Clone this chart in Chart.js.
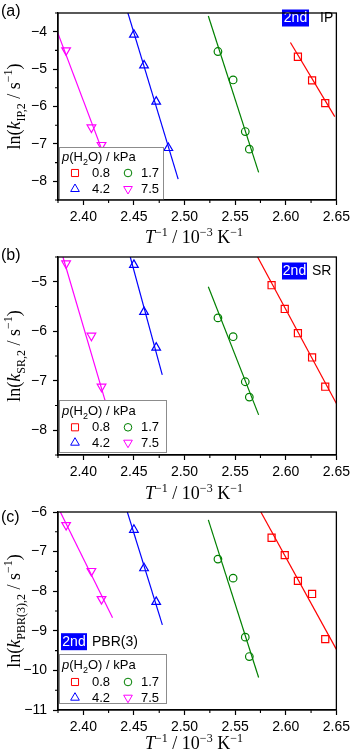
<!DOCTYPE html>
<html>
<head>
<meta charset="utf-8">
<script src="https://cdn.jsdelivr.net/npm/chart.js@4.4.0/dist/chart.umd.min.js"></script>
<style>
    html, body { margin: 0; padding: 0; background: #fff; }
    #wrap { position: relative; width: 355px; height: 756px; overflow: hidden; }
    canvas { position: absolute; left: 0; }
</style>
</head>
<body>
<div id="wrap">
    <canvas id="cA" width="355" height="250" style="top:0px"></canvas>
    <canvas id="cB" width="355" height="265" style="top:240px"></canvas>
    <canvas id="cC" width="355" height="261" style="top:495px"></canvas>
</div>
<script>
// Valores - T^-1 (10^-3 K^-1) para cada p(H2O)
const seriesLabels = ['0.8', '1.7', '4.2', '7.5'];
const invT_08 = [2.586, 2.599, 2.612, 2.626, 2.639];
const invT_17 = [2.533, 2.548, 2.560, 2.564];
const invT_42 = [2.450, 2.460, 2.472, 2.484];
const invT_75 = [2.383, 2.408, 2.418];

const xTicks = [2.40, 2.45, 2.50, 2.55, 2.60, 2.65];

// (a) ln(k_IP,2)
const lnkIP_08 = [null, null, -4.67, -5.30, -5.91];
const lnkIP_17 = [-4.53, -5.29, -6.67, -7.14];
const lnkIP_42 = [-4.08, -4.90, -5.87, -7.11];
const lnkIP_75 = [-4.50, -6.56, -7.03];
// retas de ajuste (extremos)
const fitIP_x08 = [2.6046, 2.6484], fitIP_y08 = [-4.29, -6.27];
const fitIP_x17 = [2.5235, 2.5732], fitIP_y17 = [-3.58, -7.76];
const fitIP_x42 = [2.4435, 2.4937], fitIP_y42 = [-3.45, -7.94];
const fitIP_x75 = [2.3746, 2.4184], fitIP_y75 = [-4.02, -7.16];
const yTicksIP = [-8, -7, -6, -5, -4];

// (b) ln(k_SR,2)
const lnkSR_08 = [-5.07, -5.55, -6.04, -6.53, -7.12];
const lnkSR_17 = [-5.73, -6.11, -7.02, -7.33];
const lnkSR_42 = [-4.66, -5.61, -6.33, null];
const lnkSR_75 = [-4.63, -6.09, -7.12];
const fitSR_x08 = [2.5722, 2.6500], fitSR_y08 = [-4.50, -7.46];
const fitSR_x17 = [2.5235, 2.5732], fitSR_y17 = [-5.10, -7.69];
const fitSR_x42 = [2.4464, 2.4780], fitSR_y42 = [-4.50, -6.88];
const fitSR_x75 = [2.3799, 2.4214], fitSR_y75 = [-4.50, -7.39];
const yTicksSR = [-8, -7, -6, -5];

// (c) ln(k_PBR(3),2)
const lnkPBR_08 = [-6.65, -7.09, -7.74, -8.07, -9.21];
const lnkPBR_17 = [-7.19, -7.67, -9.16, -9.65];
const lnkPBR_42 = [-6.45, -7.42, -8.27, null];
const lnkPBR_75 = [-6.33, -7.49, -8.20];
const fitPBR_x08 = [2.5754, 2.6500], fitPBR_y08 = [-6.00, -9.47];
const fitPBR_x17 = [2.5235, 2.5732], fitPBR_y17 = [-6.20, -10.18];
const fitPBR_x42 = [2.4435, 2.4781], fitPBR_y42 = [-6.00, -8.85];
const fitPBR_x75 = [2.3773, 2.4289], fitPBR_y75 = [-6.00, -8.67];
const yTicksPBR = [-11, -10, -9, -8, -7, -6];

// estilos das séries
const cores = ['#ff0000', '#008000', '#0000ff', '#ff00ff'];
const simbolos = ['rect', 'circle', 'triangle', 'triangle'];
const rotacoes = [0, 0, 0, 180];
const raios = [5, 3.8, 5, 5];

const SANS = '"Liberation Sans", Arial, sans-serif';
const SERIF = '"Liberation Serif", "Times New Roman", serif';

// desenha texto com itálico, subscrito e sobrescrito
function textoRico(ctx, partes, x, y, tam, familia, alinhar) {
    const fonte = (k) => (k === 'i' ? 'italic ' : '') + ((k === 'sub' || k === 'sup') ? Math.round(tam * 0.66) : tam) + 'px ' + familia;
    let total = 0;
    partes.forEach(p => { ctx.font = fonte(p[1]); total += ctx.measureText(p[0]).width; });
    let cx = alinhar === 'center' ? x - total / 2 : x;
    ctx.textAlign = 'left';
    ctx.textBaseline = 'alphabetic';
    partes.forEach(p => {
        ctx.font = fonte(p[1]);
        const dy = p[1] === 'sub' ? tam * 0.28 : (p[1] === 'sup' ? -tam * 0.4 : 0);
        ctx.fillText(p[0], cx, y + dy);
        cx += ctx.measureText(p[0]).width;
    });
}

function montarDatasets(xs, ys, fx, fy) {
    const ds = [];
    for (let i = 0; i < 4; i++) {
        ds.push({
            data: fx[i].map((x, j) => ({ x: x, y: fy[i][j] })),
            showLine: true, borderColor: cores[i], borderWidth: 1.2,
            pointRadius: 0, order: 2
        });
        ds.push({
            label: seriesLabels[i],
            data: xs[i].map((x, j) => ({ x: x, y: ys[i][j] })).filter(p => p.y !== null && p.y !== undefined),
            showLine: false,
            pointStyle: simbolos[i], pointRotation: rotacoes[i], pointRadius: raios[i],
            pointBorderColor: cores[i], pointBackgroundColor: 'rgba(0,0,0,0)', pointBorderWidth: 1.2,
            order: 1
        });
    }
    return ds;
}

const pluginDecor = {
    id: 'decor',
    afterDatasetsDraw(chart) {
        const P = chart.options.plugins.decor;
        const ctx = chart.ctx;
        const L = P.legenda;
        ctx.save();
        // caixa da legenda
        ctx.fillStyle = '#fff';
        ctx.fillRect(L.x, L.y, L.w, L.h);
        ctx.strokeStyle = '#8c8c8c';
        ctx.lineWidth = 1;
        ctx.strokeRect(L.x + 0.5, L.y + 0.5, L.w, L.h);
        ctx.fillStyle = '#000';
        textoRico(ctx, [['p', 'i'], ['(H', 'n'], ['2', 'sub'], ['O) / kPa', 'n']], L.x + 3, L.titulo + 5, 13, SANS, 'left');
        for (let i = 0; i < 4; i++) {
            const col = i % 2, lin = Math.floor(i / 2);
            const sx = L.x + (col ? 69 : 16);
            const tx = L.x + (col ? 82 : 33);
            const yy = lin ? L.lin2 : L.lin1;
            ctx.strokeStyle = cores[i];
            ctx.fillStyle = '#fff';
            Chart.helpers.drawPoint(ctx, { pointStyle: simbolos[i], rotation: rotacoes[i], radius: raios[i], borderWidth: 1.2 }, sx, yy);
            ctx.fillStyle = '#000';
            ctx.font = '13px ' + SANS;
            ctx.textAlign = 'left';
            ctx.textBaseline = 'middle';
            ctx.fillText(seriesLabels[i], tx, yy + 0.5);
        }
        // etiqueta "2nd"
        const T = P.etiqueta;
        ctx.fillStyle = '#0000ff';
        ctx.fillRect(T.x, T.y - 8.5, T.w, 17);
        ctx.fillStyle = '#fff';
        ctx.font = '14px ' + SANS;
        ctx.textAlign = 'center';
        ctx.textBaseline = 'middle';
        ctx.fillText('2nd', T.x + T.w / 2, T.y + 0.5);
        ctx.fillStyle = '#000';
        ctx.textAlign = 'left';
        ctx.fillText(T.texto, T.x + T.dx, T.y + 0.5);
        ctx.restore();
    },
    afterDraw(chart) {
        const P = chart.options.plugins.decor;
        const ctx = chart.ctx;
        const a = chart.chartArea;
        const sx = chart.scales.x, sy = chart.scales.y;
        ctx.save();
        // ticks menores
        ctx.strokeStyle = '#000';
        ctx.lineWidth = 1.1;
        ctx.beginPath();
        for (let v = 2.375; v < 2.65; v += 0.05) {
            const px = sx.getPixelForValue(v);
            ctx.moveTo(px, a.bottom);
            ctx.lineTo(px, a.bottom + 3);
        }
        for (let v = sy.min; v <= sy.max; v += 0.5) {
            if (Math.abs(v - Math.round(v)) < 0.01) continue;
            const py = sy.getPixelForValue(v);
            ctx.moveTo(a.left, py);
            ctx.lineTo(a.left - 3, py);
        }
        ctx.stroke();
        // moldura
        ctx.lineWidth = 1.3;
        ctx.strokeRect(a.left, a.top, a.right - a.left, a.bottom - a.top);
        // rótulo do painel
        ctx.fillStyle = '#000';
        ctx.font = '16px ' + SANS;
        ctx.textAlign = 'left';
        ctx.textBaseline = 'middle';
        ctx.fillText(P.painel, 1, P.painelY);
        // título do eixo x
        textoRico(ctx, [['T', 'i'], ['\u22121', 'sup'], [' / 10', 'n'], ['\u22123', 'sup'], [' K', 'n'], ['\u22121', 'sup']],
            194, a.bottom + P.tituloX, 18, SERIF, 'center');
        // título do eixo y
        ctx.translate(19.5, (a.top + a.bottom) / 2);
        ctx.rotate(-Math.PI / 2);
        textoRico(ctx, [['ln(', 'n'], ['k', 'i'], [P.sub, 'sub'], [' / s', 'n'], ['\u22121', 'sup'], [')', 'n']],
            0, 0, 18, SERIF, 'center');
        ctx.restore();
    }
};

function criarPainel(id, P) {
    const canvas = document.getElementById(id);
    const H = canvas.height;
    return new Chart(canvas, {
        type: 'scatter',
        data: { datasets: montarDatasets(P.xs, P.ys, P.fx, P.fy) },
        options: {
            responsive: false,
            animation: false,
            events: [],
            layout: { padding: { top: P.topo, right: 15, left: 0, bottom: 0 } },
            plugins: {
                legend: { display: false },
                tooltip: { enabled: false },
                decor: P
            },
            scales: {
                x: {
                    type: 'linear', min: 2.375, max: 2.65,
                    afterBuildTicks: (s) => { s.ticks = xTicks.map(v => ({ value: v })); },
                    afterFit: (s) => { s.height = H - P.base; },
                    ticks: {
                        callback: (v) => Number(v).toFixed(2),
                        font: { family: SANS, size: 14, lineHeight: 1 }, color: '#000',
                        padding: 5, maxRotation: 0, autoSkip: false
                    },
                    grid: { drawOnChartArea: false, tickLength: 5, tickColor: '#000', tickWidth: 1.2 },
                    border: { color: '#000', width: 1.3 }
                },
                y: {
                    type: 'linear', min: P.yMin, max: P.yMax,
                    afterBuildTicks: (s) => { s.ticks = P.yTicks.map(v => ({ value: v })); },
                    afterFit: (s) => { s.width = 58; },
                    ticks: {
                        callback: (v) => String(v).replace('-', '\u2212'),
                        font: { family: SANS, size: 14, lineHeight: 1 }, color: '#000',
                        padding: 6, autoSkip: false
                    },
                    grid: { drawOnChartArea: false, tickLength: 5, tickColor: '#000', tickWidth: 1.2 },
                    border: { color: '#000', width: 1.3 }
                }
            }
        },
        plugins: [pluginDecor]
    });
}

const xsTodos = [invT_08, invT_17, invT_42, invT_75];

criarPainel('cA', {
    xs: xsTodos, ys: [lnkIP_08, lnkIP_17, lnkIP_42, lnkIP_75],
    fx: [fitIP_x08, fitIP_x17, fitIP_x42, fitIP_x75], fy: [fitIP_y08, fitIP_y17, fitIP_y42, fitIP_y75],
    yMin: -8.5, yMax: -3.5, yTicks: yTicksIP,
    topo: 2, base: 200, painel: '(a)', painelY: 12, tituloX: 43, sub: 'IP,2',
    legenda: { x: 59, y: 147, w: 104, h: 52, titulo: 156, lin1: 173, lin2: 189 },
    etiqueta: { x: 282, y: 18, w: 27, dx: 38, texto: 'IP' }
});

criarPainel('cB', {
    xs: xsTodos, ys: [lnkSR_08, lnkSR_17, lnkSR_42, lnkSR_75],
    fx: [fitSR_x08, fitSR_x17, fitSR_x42, fitSR_x75], fy: [fitSR_y08, fitSR_y17, fitSR_y42, fitSR_y75],
    yMin: -8.5, yMax: -4.5, yTicks: yTicksSR,
    topo: 17, base: 215, painel: '(b)', painelY: 15.5, tituloX: 44, sub: 'SR,2',
    legenda: { x: 59, y: 160, w: 107, h: 52, titulo: 170, lin1: 187.3, lin2: 202.7 },
    etiqueta: { x: 282, y: 31, w: 25, dx: 30, texto: 'SR' }
});

criarPainel('cC', {
    xs: xsTodos, ys: [lnkPBR_08, lnkPBR_17, lnkPBR_42, lnkPBR_75],
    fx: [fitPBR_x08, fitPBR_x17, fitPBR_x42, fitPBR_x75], fy: [fitPBR_y08, fitPBR_y17, fitPBR_y42, fitPBR_y75],
    yMin: -11, yMax: -6, yTicks: yTicksPBR,
    topo: 17, base: 215, painel: '(c)', painelY: 23, tituloX: 39, sub: 'PBR(3),2',
    legenda: { x: 59, y: 159, w: 107, h: 49, titulo: 169, lin1: 187, lin2: 202.7 },
    etiqueta: { x: 61, y: 146.7, w: 26, dx: 31, texto: 'PBR(3)' }
});
</script>
</body>
</html>
